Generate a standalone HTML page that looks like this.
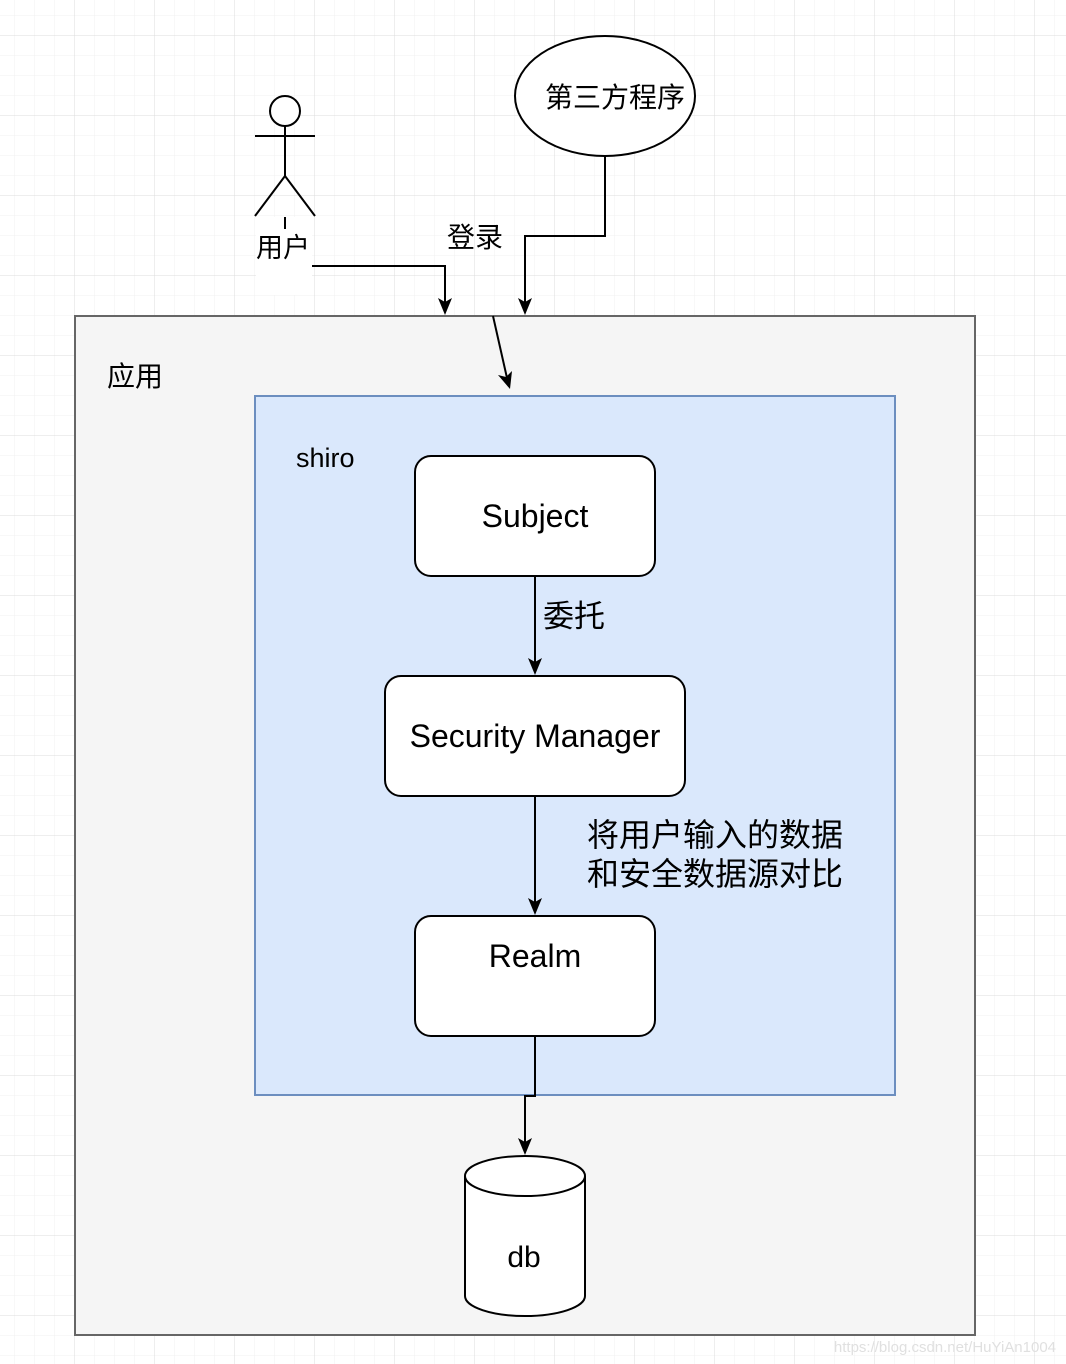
<!DOCTYPE html>
<html><head><meta charset="utf-8"><style>
html,body{margin:0;padding:0;background:#fff;}
svg{display:block;}
text{font-family:"Liberation Sans","Noto Sans CJK SC",sans-serif;fill:#000;}
</style></head><body>
<svg width="1066" height="1364" viewBox="0 0 1066 1364" xmlns="http://www.w3.org/2000/svg">
<defs>
<pattern id="minor" x="14" y="15" width="20" height="20" patternUnits="userSpaceOnUse">
<path d="M0 0H20M0 0V20" stroke="#f0f0f0" stroke-width="1" fill="none"/>
</pattern>
<pattern id="major" x="74" y="35" width="80" height="80" patternUnits="userSpaceOnUse">
<path d="M0 0H80M0 0V80" stroke="#dcdcdc" stroke-width="1" fill="none"/>
</pattern>
</defs>
<rect width="1066" height="1364" fill="#fff"/>
<rect width="1066" height="1364" fill="url(#minor)"/>
<rect width="1066" height="1364" fill="url(#major)"/>

<rect x="75" y="316" width="900" height="1019" fill="#f5f5f5" stroke="#666" stroke-width="2"/>
<text x="107" y="386" font-size="28">应用</text>

<rect x="255" y="396" width="640" height="699" fill="#dae8fc" stroke="#6c8ebf" stroke-width="2"/>
<text x="296" y="467" font-size="27">shiro</text>

<g stroke="#000" stroke-width="2" fill="none">
<circle cx="285" cy="111" r="15" fill="#fff"/>
<path d="M285 126V176M255 136H315M285 176L255 216M285 176L315 216"/>
</g>
<rect x="256" y="217" width="56" height="78" fill="#fff"/>
<path d="M285 217V229" stroke="#000" stroke-width="2"/>
<text x="256" y="257" font-size="27">用户</text>

<ellipse cx="605" cy="96" rx="90" ry="60" fill="#fff" stroke="#000" stroke-width="2"/>
<text x="615" y="107" font-size="28" text-anchor="middle">第三方程序</text>

<g stroke="#000" stroke-width="2" fill="none">
<path d="M312 266H445V305"/>
<path d="M605 156V236H525V305"/>
<path d="M493 316L507 378"/>
<path d="M535 576V665"/>
<path d="M535 796V905"/>
<path d="M535 1036V1096H525V1145"/>
</g>
<g fill="#000">
<path d="M445 315L438 298L445 302L452 298Z"/>
<path d="M525 315L518 298L525 302L532 298Z"/>
<path d="M535 675L528 658L535 662L542 658Z"/>
<path d="M535 915L528 898L535 902L542 898Z"/>
<path d="M525 1155L518 1138L525 1142L532 1138Z"/>
<path d="M510 389L498 375L506 377L512 371Z"/>
</g>
<text x="447" y="247" font-size="28">登录</text>

<rect x="415" y="456" width="240" height="120" rx="16" fill="#fff" stroke="#000" stroke-width="2"/>
<text x="535" y="527" font-size="32" text-anchor="middle">Subject</text>
<text x="543" y="627" font-size="31">委托</text>

<rect x="385" y="676" width="300" height="120" rx="16" fill="#fff" stroke="#000" stroke-width="2"/>
<text x="535" y="747" font-size="32" text-anchor="middle">Security Manager</text>

<text x="587" y="846" font-size="32">将用户输入的数据</text>
<text x="587" y="885" font-size="32">和安全数据源对比</text>

<rect x="415" y="916" width="240" height="120" rx="16" fill="#fff" stroke="#000" stroke-width="2"/>
<text x="535" y="967" font-size="32" text-anchor="middle">Realm</text>

<path d="M465 1176V1296A60 20 0 0 0 585 1296V1176A60 20 0 0 0 465 1176Z" fill="#fff" stroke="#000" stroke-width="2"/>
<path d="M465 1176A60 20 0 0 0 585 1176" fill="none" stroke="#000" stroke-width="2"/>
<text x="524" y="1267" font-size="30" text-anchor="middle">db</text>

<text x="1056" y="1352" font-size="15" text-anchor="end" style="fill:#e0e0e0">https://blog.csdn.net/HuYiAn1004</text>
</svg>
</body></html>
